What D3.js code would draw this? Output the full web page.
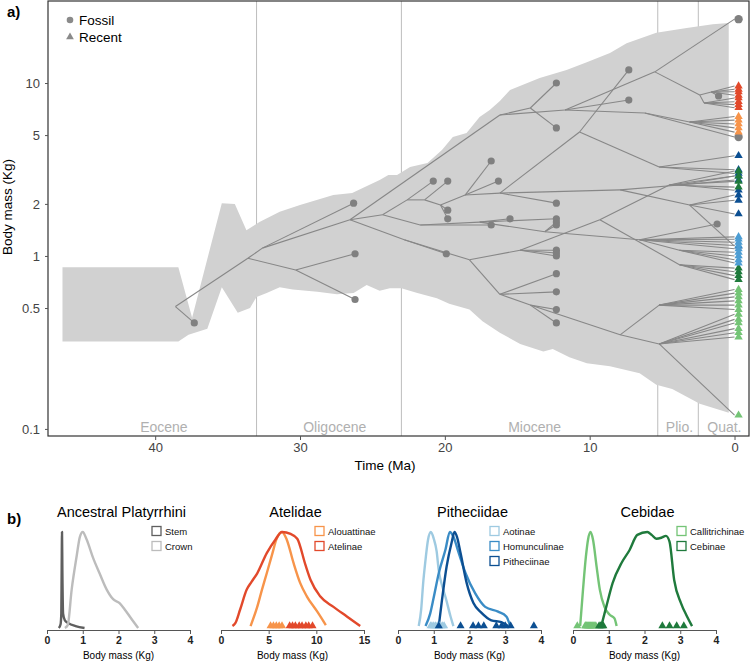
<!DOCTYPE html>
<html>
<head>
<meta charset="utf-8">
<script src="https://cdn.jsdelivr.net/npm/d3@7"></script>
<style>
body { margin: 0; background: #fff; }
svg text { font-family: 'Liberation Sans', Arial, sans-serif; }
</style>
</head>
<body>
<svg id="chart" width="750" height="662"></svg>
<script>
// ---- panel a: time axis / epochs ----
const epochBounds = [33.0, 23.0, 5.3, 2.5];
const epochNames = ['Eocene', 'Oligocene', 'Miocene', 'Plio.', 'Quat.'];
const epochLabelAge = [39.4, 27.6, 13.8, 3.8, 0.7];
const timeTicks = [40, 30, 20, 10, 0];
const massTicks = [0.1, 0.5, 1, 2, 5, 10];

// 95% envelope of ancestral body mass: [age Ma, mass kg]
const envUpper = [
    [46.4, 0.86], [38.4, 0.86], [37.45, 0.44], [35.4, 2.02], [34.5, 2.0],
    [33.7, 1.41], [32.8, 1.57], [31.4, 1.8], [30.0, 1.97], [27.7, 2.25],
    [26.4, 2.31], [24.5, 2.75], [23.9, 2.94], [23.3, 2.94], [22.4, 3.27],
    [21.2, 3.45], [20.2, 4.1], [19.45, 4.87], [18.5, 5.14], [17.6, 6.36],
    [16.9, 6.98], [16.2, 7.87], [15.5, 9.12], [13.45, 10.7], [11.6, 11.9],
    [10.2, 13.2], [8.6, 14.9], [7.45, 17.0], [5.4, 19.5], [3.3, 20.8],
    [1.5, 21.9], [0.4, 22.2]
];
const envLower = [
    [46.4, 0.32], [38.4, 0.32], [37.7, 0.35], [36.4, 0.38], [35.4, 0.66],
    [34.3, 0.47], [33.45, 0.5], [33.0, 0.58], [32.3, 0.61], [31.4, 0.66],
    [30.5, 0.64], [28.8, 0.62], [27.45, 0.6], [26.3, 0.61], [25.4, 0.68],
    [24.5, 0.63], [23.8, 0.65], [23.0, 0.65], [21.9, 0.61], [20.55, 0.57],
    [19.7, 0.53], [18.3, 0.49], [17.4, 0.42], [16.2, 0.36], [14.8, 0.31],
    [13.2, 0.28], [12.55, 0.29], [11.4, 0.26], [10.2, 0.24], [8.6, 0.23],
    [6.55, 0.21], [5.4, 0.18], [4.3, 0.17], [2.4, 0.14], [0.4, 0.124]
];

// internal nodes of the tree: [id, age, mass]
const treeNodes = [
    ['n0', 38.6, 0.51], ['n1', 33.6, 0.97], ['n2', 30.3, 0.83], ['n3', 32.6, 1.11], ['n4', 26.55, 1.62],
    ['a1', 16.2, 6.53], ['a2', 14.1, 7.17], ['a3', 11.7, 6.98], ['a4', 5.5, 11.6], ['a5', 2.4, 8.53],
    ['a6', 1.6, 8.87], ['a7', 2.1, 7.66], ['al1', 6.2, 6.71], ['al2', 3.1, 5.95],
    ['p0', 24.3, 1.73], ['p1', 22.6, 2.11], ['p2', 21.4, 2.11], ['p3', 20.3, 1.97], ['p4', 18.6, 2.25],
    ['p5', 16.2, 2.31], ['px', 10.7, 5.21], ['px2', 5.2, 3.27], ['p6', 7.9, 2.41], ['p7', 3.8, 2.57],
    ['p8', 3.1, 1.97],
    ['h0', 21.7, 1.51], ['h1', 17.6, 1.57], ['h2', 13.1, 1.38], ['h3', 6.55, 1.24], ['h4', 3.8, 1.08],
    ['c0', 22.8, 1.24], ['c1', 18.3, 0.95], ['c2', 14.8, 1.08], ['cb1', 9.3, 1.62], ['cb2', 4.5, 2.57],
    ['cb3', 3.8, 0.89], ['ca0', 16.2, 0.6], ['ca1', 14.1, 0.52], ['ca2', 7.9, 0.35], ['ca3', 5.2, 0.52],
    ['ca4', 5.2, 0.31]
];
const treeEdges = [
    ['n0', 'n1'], ['n1', 'n2'], ['n1', 'n3'], ['n3', 'n4'],
    ['n4', 'a1'], ['a1', 'a2'], ['a1', 'a3'], ['a3', 'a4'], ['a3', 'al1'], ['a4', 'a5'],
    ['a5', 'a6'], ['a5', 'a7'], ['al1', 'al2'],
    ['n4', 'p0'], ['p0', 'p1'], ['p1', 'p2'], ['p2', 'p3'], ['p3', 'p4'], ['p4', 'p5'],
    ['p5', 'px'], ['px', 'px2'], ['p5', 'p6'], ['p6', 'p7'], ['p6', 'p8'],
    ['p0', 'h0'], ['h0', 'h1'], ['h1', 'h2'], ['h2', 'h3'], ['h3', 'h4'],
    ['n4', 'c0'], ['c0', 'c1'], ['c1', 'c2'], ['c2', 'cb1'], ['cb1', 'cb2'], ['cb1', 'cb3'],
    ['c1', 'ca0'], ['ca0', 'ca1'], ['ca1', 'ca2'], ['ca2', 'ca3'], ['ca2', 'ca4']
];

// fossil tips: [age, mass, parent]
const fossils = [
    [37.3, 0.41, 'n0'], [26.3, 2.02, 'n3'], [26.2, 1.03, 'n2'], [26.2, 0.56, 'n2'],
    [20.8, 2.71, 'p1'], [19.8, 2.71, 'p2'], [19.8, 1.84, 'p3'], [19.8, 1.64, 'p3'],
    [19.9, 1.03, 'c0'], [16.8, 3.54, 'p4'], [16.3, 2.71, 'p4'], [16.8, 1.51, 'h0'],
    [15.5, 1.64, 'h1'], [12.3, 10.0, 'a2'], [12.3, 5.5, 'a2'], [12.3, 2.02, 'p5'],
    [12.3, 1.64, 'h1'], [12.3, 1.57, 'h2'], [12.3, 1.51, 'h2'], [12.3, 1.08, 'c2'],
    [12.3, 1.04, 'c2'], [12.3, 1.0, 'c2'], [12.3, 0.79, 'ca0'], [12.3, 0.62, 'ca0'],
    [12.3, 0.49, 'ca1'], [12.3, 0.41, 'ca1'], [7.3, 11.9, 'px'], [7.3, 7.97, 'a3'],
    [1.1, 8.41, 'a6'], [1.2, 1.53, 'h3'], [0, 23.4, 'a4'], [0, 4.87, 'al1']
];

// recent species body mass (kg) and the node each one hangs from
const atelinaeMass = [9.6, 9.2, 8.9, 8.5, 8.2, 7.8, 7.5, 7.2];
const atelinaeParent = ['a6', 'a6', 'a6', 'a6', 'a7', 'a7', 'a7', 'a7'];
const alouattinaeMass = [6.4, 6.1, 5.8, 5.5, 5.2];
const alouattinaeParent = ['al2', 'al2', 'al2', 'al2', 'al2'];
const pitheciinaeMass = [3.8, 3.15, 3.0, 2.9, 2.75, 2.4, 2.25, 2.1, 1.75, 1.14];
const pitheciinaeParent = ['px2', 'px2', 'px2', 'p7', 'p7', 'p7', 'p8', 'p8', 'p8', 'p8'];
const aotinaeMass = [1.29, 1.25, 1.2, 1.15, 1.1, 1.05, 1.0, 0.95, 0.91];
const aotinaeParent = ['h3', 'h3', 'h3', 'h3', 'h3', 'h4', 'h4', 'h4', 'h4'];
const cebinaeMass = [3.1, 2.9, 2.7, 2.5, 0.85, 0.81, 0.77, 0.73];
const cebinaeParent = ['cb2', 'cb2', 'cb2', 'cb2', 'cb3', 'cb3', 'cb3', 'cb3'];
const callitrichinaeMass = [0.64, 0.61, 0.58, 0.55, 0.52, 0.49, 0.46, 0.43, 0.41, 0.38, 0.36, 0.34, 0.12];
const callitrichinaeParent = ['ca3', 'ca3', 'ca3', 'ca3', 'ca3', 'ca3', 'ca4', 'ca4', 'ca4', 'ca4', 'ca4', 'ca4', 'ca4'];

// ---- panel b: densities, [mass kg, relative density] ----
const stemDens = [[0.33, 0], [0.38, 0.04], [0.40, 0.15], [0.41, 0.6], [0.42, 1.0], [0.43, 0.6], [0.45, 0.15], [0.5, 0.08], [0.6, 0.05], [0.8, 0.02], [1.05, 0]];
const crownDens = [[0.5, 0], [0.58, 0.03], [0.69, 0.4], [0.83, 0.75], [0.92, 0.95], [1.0, 1.0], [1.1, 0.93], [1.3, 0.72], [1.47, 0.57], [1.67, 0.4], [1.85, 0.3], [2.03, 0.26], [2.2, 0.18], [2.39, 0.08], [2.55, 0]];
const alouattinaeDens = [[3.1, 0.02], [3.8, 0.22], [4.3, 0.4], [4.8, 0.57], [5.4, 0.78], [5.8, 0.92], [6.4, 1.0], [6.9, 0.92], [7.6, 0.68], [8.3, 0.47], [9.0, 0.33], [10.1, 0.17], [11.0, 0.03]];
const atelinaeDens = [[1.2, 0.02], [1.5, 0.05], [2.0, 0.19], [2.7, 0.4], [3.2, 0.48], [3.8, 0.57], [4.8, 0.78], [5.7, 0.92], [6.4, 1.0], [7.3, 0.98], [8.0, 0.93], [8.85, 0.66], [9.4, 0.5], [10.4, 0.33], [11.8, 0.22], [13.2, 0.12], [14.6, 0.02]];
const aotinaeDens = [[0.58, 0.02], [0.65, 0.2], [0.7, 0.45], [0.77, 0.71], [0.84, 0.92], [0.92, 1.0], [1.0, 0.93], [1.08, 0.8], [1.14, 0.6], [1.25, 0.42], [1.33, 0.32], [1.47, 0.12], [1.55, 0.02]];
const homunculinaeDens = [[0.77, 0.02], [0.9, 0.15], [1.0, 0.32], [1.14, 0.57], [1.33, 0.82], [1.45, 1.0], [1.55, 0.95], [1.7, 0.78], [1.89, 0.57], [2.16, 0.36], [2.44, 0.22], [2.8, 0.17], [3.03, 0.12], [3.14, 0.02]];
const pitheciinaeDens = [[1.14, 0.02], [1.23, 0.29], [1.36, 0.64], [1.5, 0.89], [1.58, 1.0], [1.65, 0.95], [1.75, 0.78], [1.92, 0.47], [2.11, 0.26], [2.33, 0.16], [2.61, 0.08], [2.89, 0.06], [3.08, 0.02]];
const callitrichinaeDens = [[0.2, 0.02], [0.28, 0.4], [0.36, 0.74], [0.42, 0.92], [0.49, 1.0], [0.56, 0.92], [0.66, 0.64], [0.75, 0.4], [0.88, 0.22], [1.02, 0.14], [1.16, 0.1], [1.22, 0.02]];
const cebinaeDens = [[0.79, 0.02], [0.93, 0.22], [1.11, 0.47], [1.36, 0.68], [1.58, 0.81], [1.8, 0.97], [2.08, 1.0], [2.2, 0.97], [2.33, 0.93], [2.47, 0.94], [2.6, 0.96], [2.7, 0.9], [2.83, 0.5], [3.02, 0.26], [3.19, 0.12], [3.33, 0.02]];

const panelTitles = ['Ancestral Platyrrhini', 'Atelidae', 'Pitheciidae', 'Cebidae'];
const panelXMax = [4, 15, 4, 4];
const panelTicks = [[0, 1, 2, 3, 4], [0, 5, 10, 15], [0, 1, 2, 3, 4], [0, 1, 2, 3, 4]];
const panelGroups = [['Stem', 'Crown'], ['Alouattinae', 'Atelinae'], ['Aotinae', 'Homunculinae', 'Pitheciinae'], ['Callitrichinae', 'Cebinae']];

const groupColor = {
    Stem: '#5f5f5f', Crown: '#bcbcbc',
    Alouattinae: '#f7944a', Atelinae: '#e2492b',
    Aotinae: '#9ecae1', Homunculinae: '#3a8cc6', Pitheciinae: '#0c4f92',
    Callitrichinae: '#74c476', Cebinae: '#1f7a3c'
};
// the main plot draws owl monkeys a shade darker than the density panel
const tipColor = Object.assign({}, groupColor, { Aotinae: '#4d9dd3' });
const groupDens = {
    Stem: stemDens, Crown: crownDens, Alouattinae: alouattinaeDens, Atelinae: atelinaeDens,
    Aotinae: aotinaeDens, Homunculinae: homunculinaeDens, Pitheciinae: pitheciinaeDens,
    Callitrichinae: callitrichinaeDens, Cebinae: cebinaeDens
};
const groupTips = {
    Alouattinae: [alouattinaeMass, alouattinaeParent], Atelinae: [atelinaeMass, atelinaeParent],
    Aotinae: [aotinaeMass, aotinaeParent], Pitheciinae: [pitheciinaeMass, pitheciinaeParent],
    Callitrichinae: [callitrichinaeMass, callitrichinaeParent], Cebinae: [cebinaeMass, cebinaeParent]
};
// main plot draw order of recent tips (top to bottom)
const recentOrder = ['Atelinae', 'Alouattinae', 'Pitheciinae', 'Cebinae', 'Aotinae', 'Callitrichinae'];

// ---------------------------------------------------------------
const svg = d3.select('#chart');
const plot = { left: 48, right: 749, top: 1, bottom: 436 };
const tipAge = -0.28; // markers for present-day tips sit just right of 0

const x = d3.scaleLinear().domain([47.4, -1]).range([plot.left, plot.right]);
const y = d3.scaleLog().domain([0.091, 29.8]).range([plot.bottom, plot.top]);

svg.append('g')
    .selectAll('line')
    .data(epochBounds)
    .join('line')
    .attr('x1', d => x(d))
    .attr('x2', d => x(d))
    .attr('y1', plot.top)
    .attr('y2', plot.bottom)
    .attr('stroke', '#bdbdbd')
    .attr('stroke-width', 1);

const envPts = envUpper.concat(envLower.slice().reverse());
svg.append('path')
    .attr('d', d3.line().x(d => x(d[0])).y(d => y(d[1]))(envPts) + 'Z')
    .attr('fill', '#d1d1d1');

svg.append('g')
    .selectAll('text')
    .data(epochNames)
    .join('text')
    .attr('x', (d, i) => x(epochLabelAge[i]))
    .attr('y', 432)
    .attr('text-anchor', 'middle')
    .attr('font-size', 14)
    .attr('fill', '#b0b0b0')
    .text(d => d);

// tree branches
const nodePos = new Map(treeNodes.map(d => [d[0], [d[1], d[2]]]));
const segs = treeEdges.map(e => [nodePos.get(e[0]), nodePos.get(e[1])]);
fossils.forEach(f => segs.push([nodePos.get(f[2]), [f[0], f[1]]]));
recentOrder.forEach(g => {
    const [mass, parent] = groupTips[g];
    mass.forEach((m, i) => segs.push([nodePos.get(parent[i]), [0, m]]));
});

svg.append('g')
    .selectAll('line')
    .data(segs)
    .join('line')
    .attr('x1', d => x(d[0][0]))
    .attr('y1', d => y(d[0][1]))
    .attr('x2', d => x(d[1][0]))
    .attr('y2', d => y(d[1][1]))
    .attr('stroke', '#878787')
    .attr('stroke-width', 1.1);

svg.append('g')
    .selectAll('circle')
    .data(fossils)
    .join('circle')
    .attr('cx', d => x(d[0] === 0 ? tipAge : d[0]))
    .attr('cy', d => y(d[1]))
    .attr('r', d => d[0] === 0 ? 4.2 : 3.6)
    .attr('fill', '#808080');

const tri = d3.symbol(d3.symbolTriangle).size(30);
const recentPts = recentOrder.flatMap(g => groupTips[g][0].map(m => ({ g, m })));
svg.append('g')
    .selectAll('path')
    .data(recentPts)
    .join('path')
    .attr('d', tri)
    .attr('transform', d => `translate(${x(tipAge)},${y(d.m)})`)
    .attr('fill', d => tipColor[d.g]);

// frame and axes
svg.append('rect')
    .attr('x', plot.left)
    .attr('y', plot.top)
    .attr('width', plot.right - plot.left)
    .attr('height', plot.bottom - plot.top)
    .attr('fill', 'none')
    .attr('stroke', '#333')
    .attr('stroke-width', 1.2);

const yAxis = svg.append('g')
    .attr('transform', `translate(${plot.left},0)`)
    .call(d3.axisLeft(y).tickValues(massTicks).tickFormat(d3.format('')).tickSize(3).tickPadding(5));
const xAxis = svg.append('g')
    .attr('transform', `translate(0,${plot.bottom})`)
    .call(d3.axisBottom(x).tickValues(timeTicks).tickFormat(d3.format('d')).tickSize(4).tickPadding(3));
[yAxis, xAxis].forEach(g => {
    g.select('.domain').remove();
    g.selectAll('text').attr('font-size', 13).attr('fill', '#444').attr('font-family', null);
    g.selectAll('line').attr('stroke', '#555');
});

svg.append('text')
    .attr('x', 385)
    .attr('y', 470)
    .attr('text-anchor', 'middle')
    .attr('font-size', 13.5)
    .text('Time (Ma)');
svg.append('text')
    .attr('transform', 'translate(12,207) rotate(-90)')
    .attr('text-anchor', 'middle')
    .attr('font-size', 13.5)
    .text('Body mass (Kg)');

// legend
const leg = svg.append('g');
leg.append('circle').attr('cx', 70).attr('cy', 20).attr('r', 3.3).attr('fill', '#8a8a8a');
leg.append('path').attr('d', d3.symbol(d3.symbolTriangle).size(26)).attr('transform', 'translate(70,37)').attr('fill', '#8a8a8a');
leg.append('text').attr('x', 79).attr('y', 25).attr('font-size', 13.5).text('Fossil');
leg.append('text').attr('x', 79).attr('y', 42).attr('font-size', 13.5).text('Recent');

svg.append('text').attr('x', 7).attr('y', 17).attr('font-size', 15).attr('font-weight', 'bold').text('a)');
svg.append('text').attr('x', 7).attr('y', 524).attr('font-size', 15).attr('font-weight', 'bold').text('b)');

// ---- panel b ----
const panelX0 = [47, 221, 398, 573];
const panelW = 143;
const legendDx = [105, 94, 92, 104];
const py = d3.scaleLinear().domain([0, 1]).range([628, 532]);

panelTitles.forEach((title, i) => {
    const g = svg.append('g');
    const px = d3.scaleLinear().domain([0, panelXMax[i]]).range([panelX0[i], panelX0[i] + panelW]);

    g.append('text')
        .attr('x', panelX0[i] + panelW / 2 + 3)
        .attr('y', 517)
        .attr('text-anchor', 'middle')
        .attr('font-size', 14.5)
        .text(title);

    const groups = panelGroups[i];
    g.selectAll('path.dens')
        .data(groups)
        .join('path')
        .attr('class', 'dens')
        .attr('d', k => d3.line().curve(d3.curveMonotoneX).x(d => px(d[0])).y(d => py(d[1]))(groupDens[k]))
        .attr('fill', 'none')
        .attr('stroke', k => groupColor[k])
        .attr('stroke-width', 2.4)
        .attr('stroke-linejoin', 'round');

    const pts = groups.filter(k => groupTips[k]).flatMap(k => groupTips[k][0].map(m => ({ k, m })));
    g.selectAll('path.tip')
        .data(pts)
        .join('path')
        .attr('class', 'tip')
        .attr('d', d3.symbol(d3.symbolTriangle).size(28))
        .attr('transform', d => `translate(${px(d.m)},626)`)
        .attr('fill', d => groupColor[d.k]);

    const ax = g.append('g')
        .attr('transform', 'translate(0,630)')
        .call(d3.axisBottom(px).tickValues(panelTicks[i]).tickFormat(d3.format('d')).tickSize(4).tickSizeOuter(0).tickPadding(3));
    ax.select('.domain').attr('stroke', '#555');
    ax.selectAll('line').attr('stroke', '#555');
    ax.selectAll('text').attr('font-size', 10.5).attr('font-weight', 'bold').attr('fill', '#222').attr('font-family', null);

    g.append('text')
        .attr('x', panelX0[i] + panelW / 2)
        .attr('y', 659)
        .attr('text-anchor', 'middle')
        .attr('font-size', 10)
        .text('Body mass (Kg)');

    const lg = g.selectAll('g.leg')
        .data(groups)
        .join('g')
        .attr('class', 'leg')
        .attr('transform', (k, j) => `translate(${panelX0[i] + legendDx[i]},${531 + j * 15})`);
    lg.append('rect')
        .attr('x', 0)
        .attr('y', -4.5)
        .attr('width', 9)
        .attr('height', 9)
        .attr('fill', '#fff')
        .attr('stroke', k => groupColor[k])
        .attr('stroke-width', 1.3);
    lg.append('text')
        .attr('x', 13)
        .attr('y', 3.5)
        .attr('font-size', 9.5)
        .attr('fill', '#111')
        .text(k => k);
});
</script>
</body>
</html>
